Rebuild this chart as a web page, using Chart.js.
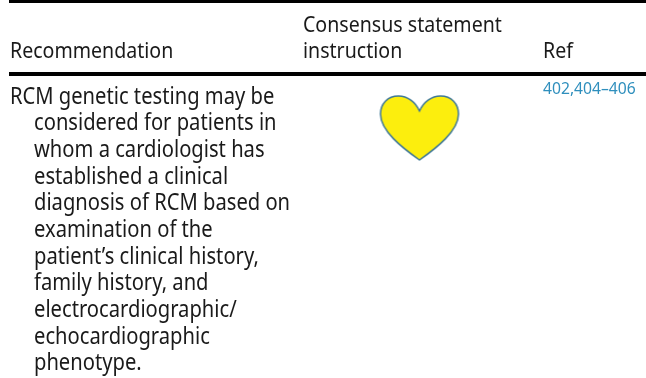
<!DOCTYPE html>
<html>
<head>
<meta charset="utf-8">
<style>
  html, body { margin: 0; padding: 0; background: #fff; }
  #wrap { width: 646px; height: 378px; }
</style>
<script src="https://cdn.jsdelivr.net/npm/chart.js@4"></script>
</head>
<body>
<div id="wrap"><canvas id="tableChart" width="646" height="378"></canvas></div>
<script>
// table content
const columns = ['Recommendation', 'Consensus statement instruction', 'Ref'];
const headerLines = [['Recommendation'], ['Consensus statement', 'instruction'], ['Ref']];
const rows = ['RCM genetic testing'];
const recommendationLines = [
    'RCM genetic testing may be',
    'considered for patients in',
    'whom a cardiologist has',
    'established a clinical',
    'diagnosis of RCM based on',
    'examination of the',
    'patient\u2019s clinical history,',
    'family history, and',
    'electrocardiographic/',
    'echocardiographic',
    'phenotype.'
];
const refText = '402,404\u2013406';
const heartCells = [{ x: columns[1], y: rows[0] }];

// heart marker
function makeHeart() {
    const c = document.createElement('canvas');
    c.width = 82;
    c.height = 68;
    const g = c.getContext('2d');
    g.beginPath();
    g.moveTo(41, 17);
    g.bezierCurveTo(37, 8, 29, 2, 20, 2);
    g.bezierCurveTo(9, 2, 2, 10, 2, 20);
    g.bezierCurveTo(2, 37, 24, 54, 41, 66);
    g.bezierCurveTo(58, 54, 80, 37, 80, 20);
    g.bezierCurveTo(80, 10, 73, 2, 62, 2);
    g.bezierCurveTo(53, 2, 45, 8, 41, 17);
    g.closePath();
    g.fillStyle = '#fcee0d';
    g.fill();
    g.lineWidth = 1.5;
    g.strokeStyle = '#3f7896';
    g.stroke();
    return c;
}

// rules and text of the table
const tablePlugin = {
    id: 'tableText',
    beforeDraw(chart) {
        const ctx = chart.ctx;
        ctx.save();
        ctx.fillStyle = '#fff';
        ctx.fillRect(0, 0, 646, 378);
        ctx.fillStyle = '#000';
        ctx.fillRect(9, 0, 637, 3);
        ctx.fillRect(9, 72, 637, 4);

        ctx.textBaseline = 'middle';
        ctx.textAlign = 'left';
        ctx.fillStyle = '#1a1a1a';
        const put = (text, x, y, squeeze) => {
            ctx.save();
            ctx.translate(x, y);
            ctx.scale(squeeze, 1);
            ctx.fillText(text, 0, 0);
            ctx.restore();
        };
        ctx.font = '22px "Noto Sans"';
        put(headerLines[0][0], 10, 52, 0.89);
        put(headerLines[1][0], 303, 26, 0.89);
        put(headerLines[1][1], 303, 52, 0.89);
        put(headerLines[2][0], 543, 52, 0.89);
        ctx.font = '23px "Noto Sans"';
        recommendationLines.forEach((line, i) => {
            put(line, i === 0 ? 10 : 34, 97 + i * 26.67, 0.877);
        });

        ctx.fillStyle = '#2f8fbd';
        ctx.font = '16px "Noto Sans"';
        put(refText, 543, 89, 0.98);
        ctx.restore();
    }
};

const ctx = document.getElementById('tableChart').getContext('2d');
new Chart(ctx, {
    type: 'scatter',
    data: {
        datasets: [{
            label: columns[1],
            data: heartCells,
            pointStyle: makeHeart(),
            pointRadius: 40,
            pointHoverRadius: 40
        }]
    },
    options: {
        responsive: false,
        animation: false,
        layout: { padding: { left: 234, right: 0, top: 78, bottom: 200 } },
        plugins: { legend: { display: false }, title: { display: false }, tooltip: { enabled: false } },
        scales: {
            x: { type: 'category', labels: columns, offset: true, display: false },
            y: { type: 'category', labels: rows, offset: true, display: false }
        }
    },
    plugins: [tablePlugin]
});
</script>
</body>
</html>
